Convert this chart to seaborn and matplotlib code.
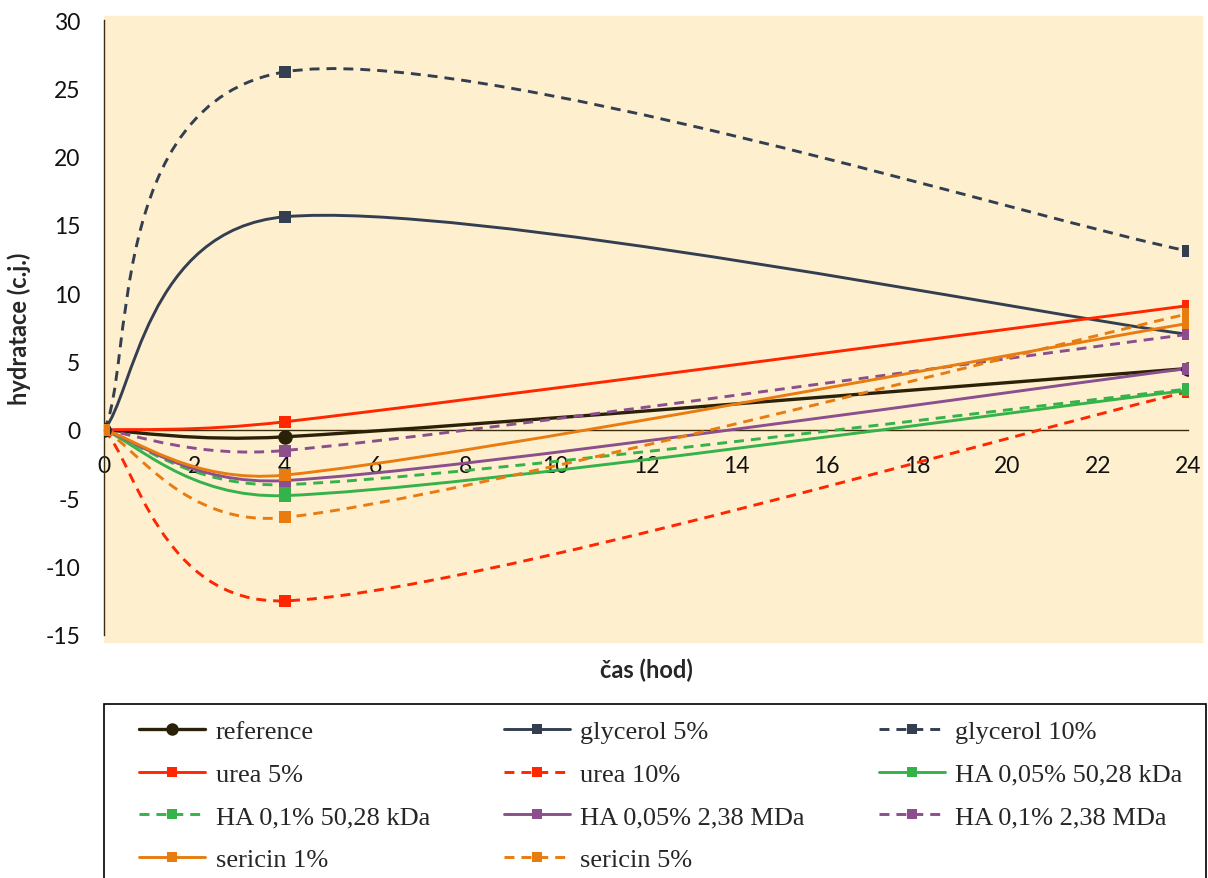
import numpy as np
import matplotlib
matplotlib.use("Agg")
import matplotlib.pyplot as plt
from matplotlib.path import Path
from matplotlib.patches import PathPatch, Rectangle
from matplotlib.lines import Line2D
import seaborn as sns

# data
time_h = [0, 4, 24]
series_names = ["reference", "glycerol 5%", "glycerol 10%", "urea 5%", "urea 10%",
                "HA 0,05% 50,28 kDa", "HA 0,1% 50,28 kDa", "HA 0,05% 2,38 MDa",
                "HA 0,1% 2,38 MDa", "sericin 1%", "sericin 5%"]
reference = [0, -0.5, 4.5]
glycerol_5 = [0, 15.6, 7.0]
glycerol_10 = [0, 26.2, 13.1]
urea_5 = [0, 0.6, 9.1]
urea_10 = [0, -12.5, 2.8]
ha_005_50 = [0, -4.8, 2.9]
ha_01_50 = [0, -4.0, 3.0]
ha_005_238 = [0, -3.7, 4.5]
ha_01_238 = [0, -1.5, 7.0]
sericin_1 = [0, -3.3, 7.8]
sericin_5 = [0, -6.4, 8.5]
values = [reference, glycerol_5, glycerol_10, urea_5, urea_10, ha_005_50, ha_01_50,
          ha_005_238, ha_01_238, sericin_1, sericin_5]

colors = ["#2B2008", "#333F50", "#333F50", "#FF2600", "#FF2600", "#35B24A", "#35B24A",
          "#8B4F8E", "#8B4F8E", "#E97C10", "#E97C10"]
dashed = [False, False, True, False, True, False, True, False, True, False, True]
markers = ["o", "s", "s", "s", "s", "s", "s", "s", "s", "s", "s"]
bg = "#FEF0CE"

sns.set_style("white")
plt.rcParams["font.family"] = ["Lato", "DejaVu Sans"]
plt.rcParams["axes.unicode_minus"] = False

W, H = 1208, 879
ax_w, ax_h = 1188 - 104, 636 - 21
fig = plt.figure(figsize=(W / 100, H / 100), dpi=100)
fig.patches.append(Rectangle((104 / W, 1 - 643 / H), (1202 - 104) / W, (643 - 17) / H,
                             transform=fig.transFigure, color=bg, zorder=-5))
ax = fig.add_axes([104 / W, 1 - 636 / H, ax_w / W, ax_h / H])
ax.set_facecolor("none")
xmin, xmax, ymin, ymax = 0, 24, -15, 30
sx, sy = ax_w / (xmax - xmin), ax_h / (ymax - ymin)


def smooth_path(xs, ys):
    # Excel-like smoothed line: Bezier arms 1/6 of neighbour chord,
    # capped at half the segment length (measured on screen)
    pts = [np.array([x, y], float) for x, y in zip(xs, ys)]
    n = len(pts)

    def dist(a, b):
        return np.hypot((a[0] - b[0]) * sx, (a[1] - b[1]) * sy)

    verts = [tuple(pts[0])]
    codes = [Path.MOVETO]
    for i in range(n - 1):
        p0 = pts[i - 1] if i > 0 else pts[i]
        p1 = pts[i]
        p2 = pts[i + 1]
        p3 = pts[i + 2] if i + 2 < n else pts[i + 1]
        half = dist(p1, p2) / 2
        d02, d13 = dist(p0, p2), dist(p1, p3)
        f1 = 1 / 6 if d02 / 6 < half or d02 == 0 else half / d02
        f2 = 1 / 6 if d13 / 6 < half or d13 == 0 else half / d13
        c1 = p1 + (p2 - p0) * f1
        c2 = p2 - (p3 - p1) * f2
        verts += [tuple(c1), tuple(c2), tuple(p2)]
        codes += [Path.CURVE4] * 3
    return Path(verts, codes)


dash_pat = (0, (3.4, 2.4))
handles = []
for name, vals, c, d, m in zip(series_names, values, colors, dashed, markers):
    lw = 2.4 if name == "reference" else 2.1
    ls = dash_pat if d else "-"
    ax.add_patch(PathPatch(smooth_path(time_h, vals), fill=False, edgecolor=c,
                           linewidth=lw, linestyle=ls, zorder=3, capstyle="butt"))
    ms = 110 if m == "o" else 75
    sns.scatterplot(x=time_h, y=vals, ax=ax, marker=m, s=ms, color=c,
                    edgecolor=c, linewidth=0, zorder=4)
    handles.append(Line2D([], [], color=c, lw=lw, linestyle=ls, marker=m,
                          markersize=9 if m == "o" else 7, markeredgewidth=0))

ax.set_xlim(xmin, xmax)
ax.set_ylim(ymin, ymax)
ax.set_xticks(range(0, 25, 2))
ax.set_yticks(range(-15, 31, 5))
ax.spines["top"].set_visible(False)
ax.spines["right"].set_visible(False)
ax.spines["bottom"].set_position(("data", 0))
for s in ["left", "bottom"]:
    ax.spines[s].set_color("#3A2C0C")
    ax.spines[s].set_linewidth(1)
ax.spines["bottom"].set_bounds(0, 24)
ax.set_axisbelow(True)
ax.tick_params(axis="x", length=0, pad=18, labelsize=16.5, colors="#111111")
ax.tick_params(axis="y", length=0, pad=17, labelsize=16.5, colors="#111111")

ax.set_xlabel("čas (hod)", fontsize=17, fontweight="bold")
ax.set_ylabel("hydratace (c.j.)", fontsize=17, fontweight="bold")
ax.xaxis.set_label_coords(0.5, (636 - 659) / 615)
ax.yaxis.set_label_coords((31 - 104) / 1084, 0.5)

# legend frame and entries (row-wise order)
fig.patches.append(Rectangle((104 / W, -0.05), (1206 - 104) / W, 1 - 705 / H + 0.05,
                             transform=fig.transFigure, facecolor="white",
                             edgecolor="black", linewidth=1.2, zorder=-5))
order = [0, 3, 6, 9, 1, 4, 7, 10, 2, 5, 8]
fig.legend([handles[i] for i in order], [series_names[i] for i in order],
           loc="upper left", bbox_to_anchor=(139 / W, 1 - 721 / H), ncol=3,
           frameon=False, borderpad=0, borderaxespad=0,
           prop={"family": "Liberation Serif", "size": 19},
           handlelength=2.5, handletextpad=0.4, labelspacing=0.72, columnspacing=2.8)

fig.savefig("out.png", dpi=100)
